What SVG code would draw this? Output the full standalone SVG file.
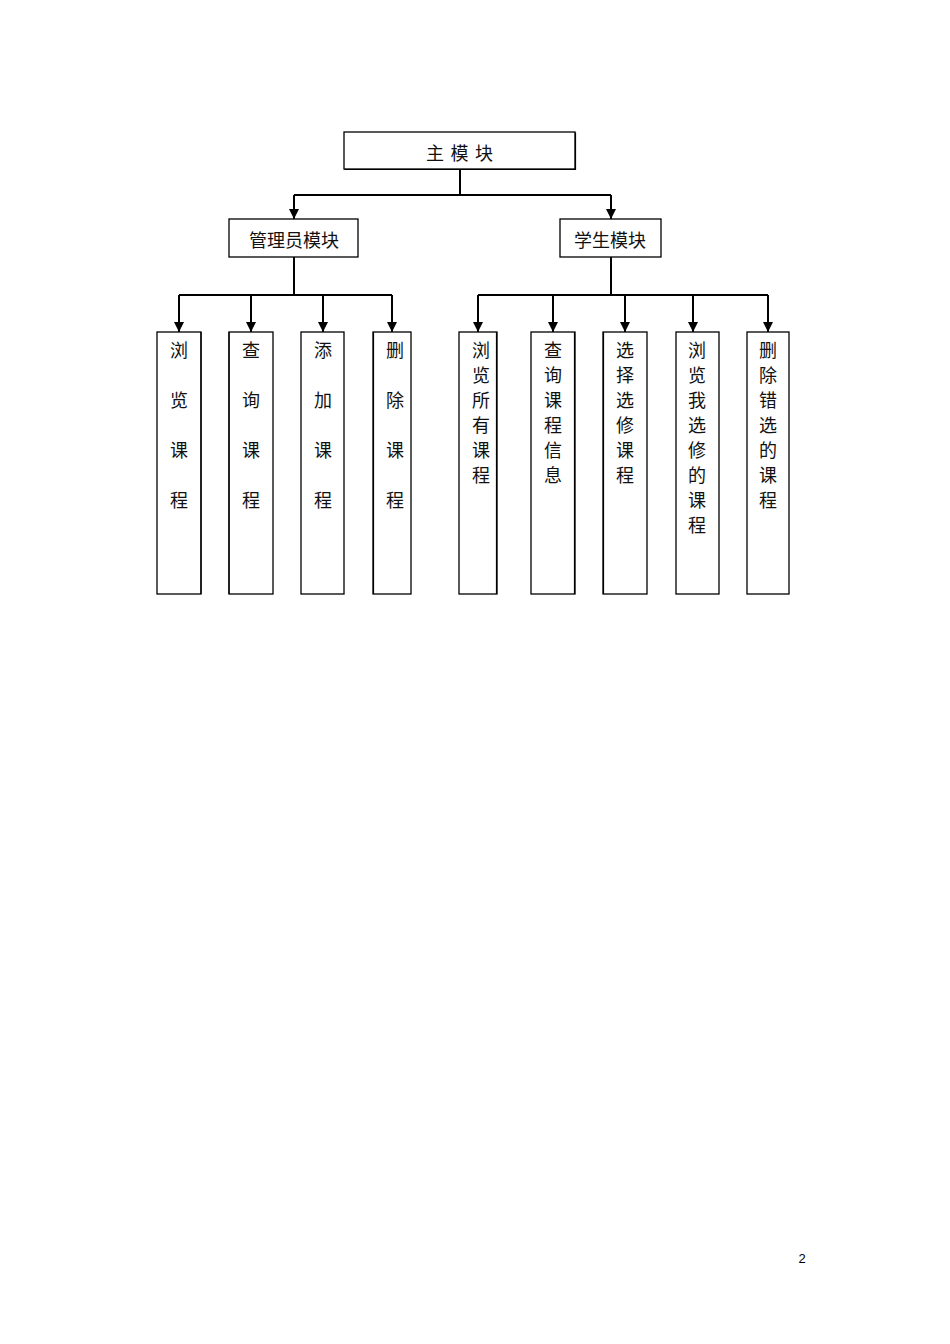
<svg xmlns="http://www.w3.org/2000/svg" width="950" height="1344" viewBox="0 0 950 1344">
<style>
.box{fill:#fff;stroke:#000;stroke-width:1.3}
.sh{fill:none;stroke:#000;stroke-width:1.2}
.t{font-family:"Liberation Serif","Noto Sans CJK SC",serif;font-size:18px;fill:#111;text-anchor:middle}
.c{fill:none;stroke:#000;stroke-width:2}
</style>
<defs>
<marker id="ah" markerWidth="10" markerHeight="10" refX="10" refY="5" orient="auto" markerUnits="userSpaceOnUse" viewBox="0 0 10 10">
<path d="M0,0 L10,5 L0,10 Z" fill="#000"/>
</marker>
</defs>
<rect width="950" height="1344" fill="#fff"/>
<g id="connectors">
<path class="c" d="M460,170 V195 M294,195 H611"/>
<path class="c" d="M294,195 V219" marker-end="url(#ah)"/>
<path class="c" d="M611,195 V219" marker-end="url(#ah)"/>
<path class="c" d="M294,257 V295 M179,295 H392"/>
<path class="c" d="M179,295 V332" marker-end="url(#ah)"/>
<path class="c" d="M251,295 V332" marker-end="url(#ah)"/>
<path class="c" d="M323,295 V332" marker-end="url(#ah)"/>
<path class="c" d="M392,295 V332" marker-end="url(#ah)"/>
<path class="c" d="M611,257 V295 M478,295 H768"/>
<path class="c" d="M478,295 V332" marker-end="url(#ah)"/>
<path class="c" d="M553,295 V332" marker-end="url(#ah)"/>
<path class="c" d="M625,295 V332" marker-end="url(#ah)"/>
<path class="c" d="M693,295 V332" marker-end="url(#ah)"/>
<path class="c" d="M768,295 V332" marker-end="url(#ah)"/>
</g>
<g id="main">
<rect class="box" x="344" y="132" width="231" height="37"/>
<path class="sh" d="M575.5,132.5 V169.5 H344.5"/>
<text class="t" x="460" y="160" letter-spacing="1">主 模 块</text>
</g>
<g id="admin">
<rect class="box" x="229" y="219" width="129" height="38"/>
<text class="t" x="294" y="247">管理员模块</text>
</g>
<g id="student">
<rect class="box" x="560" y="219" width="101" height="38"/>
<text class="t" x="610" y="247">学生模块</text>
</g>
<g id="a1">
<rect class="box" x="157" y="332" width="44" height="262"/>
<path class="sh" d="M201,332 V594"/>
<text class="t"><tspan x="179" y="357">浏</tspan><tspan x="179" y="407">览</tspan><tspan x="179" y="457">课</tspan><tspan x="179" y="507">程</tspan></text>
</g>
<g id="a2">
<rect class="box" x="229" y="332" width="44" height="262"/>
<path class="sh" d="M229,332 V594"/>
<text class="t"><tspan x="251" y="357">查</tspan><tspan x="251" y="407">询</tspan><tspan x="251" y="457">课</tspan><tspan x="251" y="507">程</tspan></text>
</g>
<g id="a3">
<rect class="box" x="301" y="332" width="43" height="262"/>
<text class="t"><tspan x="323" y="357">添</tspan><tspan x="323" y="407">加</tspan><tspan x="323" y="457">课</tspan><tspan x="323" y="507">程</tspan></text>
</g>
<g id="a4">
<rect class="box" x="373" y="332" width="38" height="262"/>
<path class="sh" d="M373.5,332 V594"/>
<text class="t"><tspan x="395" y="357">删</tspan><tspan x="395" y="407">除</tspan><tspan x="395" y="457">课</tspan><tspan x="395" y="507">程</tspan></text>
</g>
<g id="s1">
<rect class="box" x="459" y="332" width="38" height="262"/>
<path class="sh" d="M496.5,332 V594"/>
<text class="t"><tspan x="481" y="357">浏</tspan><tspan x="481" y="382">览</tspan><tspan x="481" y="407">所</tspan><tspan x="481" y="432">有</tspan><tspan x="481" y="457">课</tspan><tspan x="481" y="482">程</tspan></text>
</g>
<g id="s2">
<rect class="box" x="531" y="332" width="44" height="262"/>
<path class="sh" d="M574.5,332 V594"/>
<text class="t"><tspan x="553" y="357">查</tspan><tspan x="553" y="382">询</tspan><tspan x="553" y="407">课</tspan><tspan x="553" y="432">程</tspan><tspan x="553" y="457">信</tspan><tspan x="553" y="482">息</tspan></text>
</g>
<g id="s3">
<rect class="box" x="603" y="332" width="44" height="262"/>
<path class="sh" d="M603.5,332 V594"/>
<text class="t"><tspan x="625" y="357">选</tspan><tspan x="625" y="382">择</tspan><tspan x="625" y="407">选</tspan><tspan x="625" y="432">修</tspan><tspan x="625" y="457">课</tspan><tspan x="625" y="482">程</tspan></text>
</g>
<g id="s4">
<rect class="box" x="676" y="332" width="43" height="262"/>
<text class="t"><tspan x="697" y="357">浏</tspan><tspan x="697" y="382">览</tspan><tspan x="697" y="407">我</tspan><tspan x="697" y="432">选</tspan><tspan x="697" y="457">修</tspan><tspan x="697" y="482">的</tspan><tspan x="697" y="507">课</tspan><tspan x="697" y="532">程</tspan></text>
</g>
<g id="s5">
<rect class="box" x="747" y="332" width="42" height="262"/>
<text class="t"><tspan x="768" y="357">删</tspan><tspan x="768" y="382">除</tspan><tspan x="768" y="407">错</tspan><tspan x="768" y="432">选</tspan><tspan x="768" y="457">的</tspan><tspan x="768" y="482">课</tspan><tspan x="768" y="507">程</tspan></text>
</g>
<text x="802" y="1263" font-family="Liberation Sans, sans-serif" font-size="13" text-anchor="middle" fill="#000">2</text>
</svg>
